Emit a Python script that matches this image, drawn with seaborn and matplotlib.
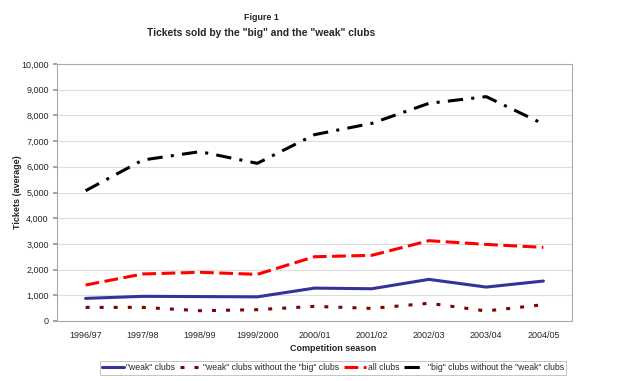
import matplotlib
matplotlib.use("Agg")
import matplotlib.pyplot as plt
import seaborn as sns
import pandas as pd
from matplotlib.lines import Line2D
from matplotlib.ticker import FuncFormatter

seasons = ["1996/97", "1997/98", "1998/99", "1999/2000", "2000/01",
           "2001/02", "2002/03", "2003/04", "2004/05"]
weak = [880, 960, 950, 940, 1280, 1255, 1620, 1320, 1555]
weak_no_big = [530, 530, 400, 440, 570, 490, 690, 390, 635]
all_clubs = [1400, 1830, 1895, 1815, 2500, 2555, 3125, 2980, 2865]
big_no_weak = [5070, 6265, 6590, 6135, 7250, 7690, 8470, 8730, 7665]

labels = ['"weak" clubs', '"weak" clubs without the "big" clubs',
          'all clubs', '"big" clubs without the "weak" clubs']

sns.set_theme(style="white")
plt.rcParams['font.family'] = ['Liberation Sans', 'DejaVu Sans']

fig = plt.figure(figsize=(6.2, 3.81), dpi=100)
ax = fig.add_axes([57/620, 1 - 321/381, (572-57)/620, (321-64)/381])

series = [
    (weak, "#333399", 2.2, None),
    (weak_no_big, "#800000", 2.2, (1.3, 3.3)),
    (all_clubs, "#ff0000", 2.2, (4.5, 1.8)),
    (big_no_weak, "#000000", 2.2, (5.0, 2.7, 1.0, 2.7)),
]
handles = []
for vals, col, lw, dash in series:
    df = pd.DataFrame({"season": seasons, "value": vals})
    sns.lineplot(data=df, x="season", y="value", ax=ax, color=col, linewidth=lw,
                 sort=False)
    line = ax.lines[-1]
    if dash is not None:
        line.set_dashes(dash)
    h = Line2D([], [], color=col, linewidth=lw)
    if dash is not None:
        h.set_dashes(dash)
    handles.append(h)

ax.set_xlim(-0.5, 8.5)
ax.set_ylim(0, 10000)
ax.set_yticks(range(0, 10001, 1000))
ax.yaxis.set_major_formatter(FuncFormatter(lambda v, p: f"{int(v):,}"))
ax.set_xticks(range(9))
ax.set_xticklabels(seasons)
ax.set_xticks([i + 0.5 for i in range(-1, 9)], minor=True)
ax.tick_params(axis="x", which="major", length=0, labelsize=6.5, pad=7)
ax.tick_params(axis="x", which="minor", length=3, color="#999999", direction="out")
ax.tick_params(axis="y", which="major", length=3, color="#999999", labelsize=6.5, pad=3, left=True)
ax.grid(axis="y", color="#dddddd", linewidth=0.8)
ax.set_axisbelow(True)
for s in ax.spines.values():
    s.set_color("#aaaaaa")
    s.set_linewidth(0.8)

ax.set_ylabel("Tickets (average)", fontsize=6.5, fontweight="bold")
ax.yaxis.set_label_coords(-0.068, 0.5)
ax.set_xlabel("Competition season", fontsize=6.5, fontweight="bold")
ax.xaxis.set_label_coords(0.536, -0.088)

fig.text(261/620, 1 - 18/381, "Figure 1", ha="center", va="center", fontsize=6.4, fontweight="bold")
fig.text(261/620, 1 - 33/381, 'Tickets sold by the "big" and the "weak" clubs', ha="center",
         va="center", fontsize=7.4, fontweight="bold")

leg = fig.legend(handles, labels, loc="center", bbox_to_anchor=(333/620, 1 - 368/381), ncol=4,
                 fontsize=6.2, frameon=True, fancybox=False, edgecolor="#aaaaaa",
                 handlelength=2.5, handletextpad=0.2, columnspacing=0.6,
                 borderpad=0.3, borderaxespad=0)
leg.get_frame().set_linewidth(0.6)

fig.savefig("out.png", dpi=100)
